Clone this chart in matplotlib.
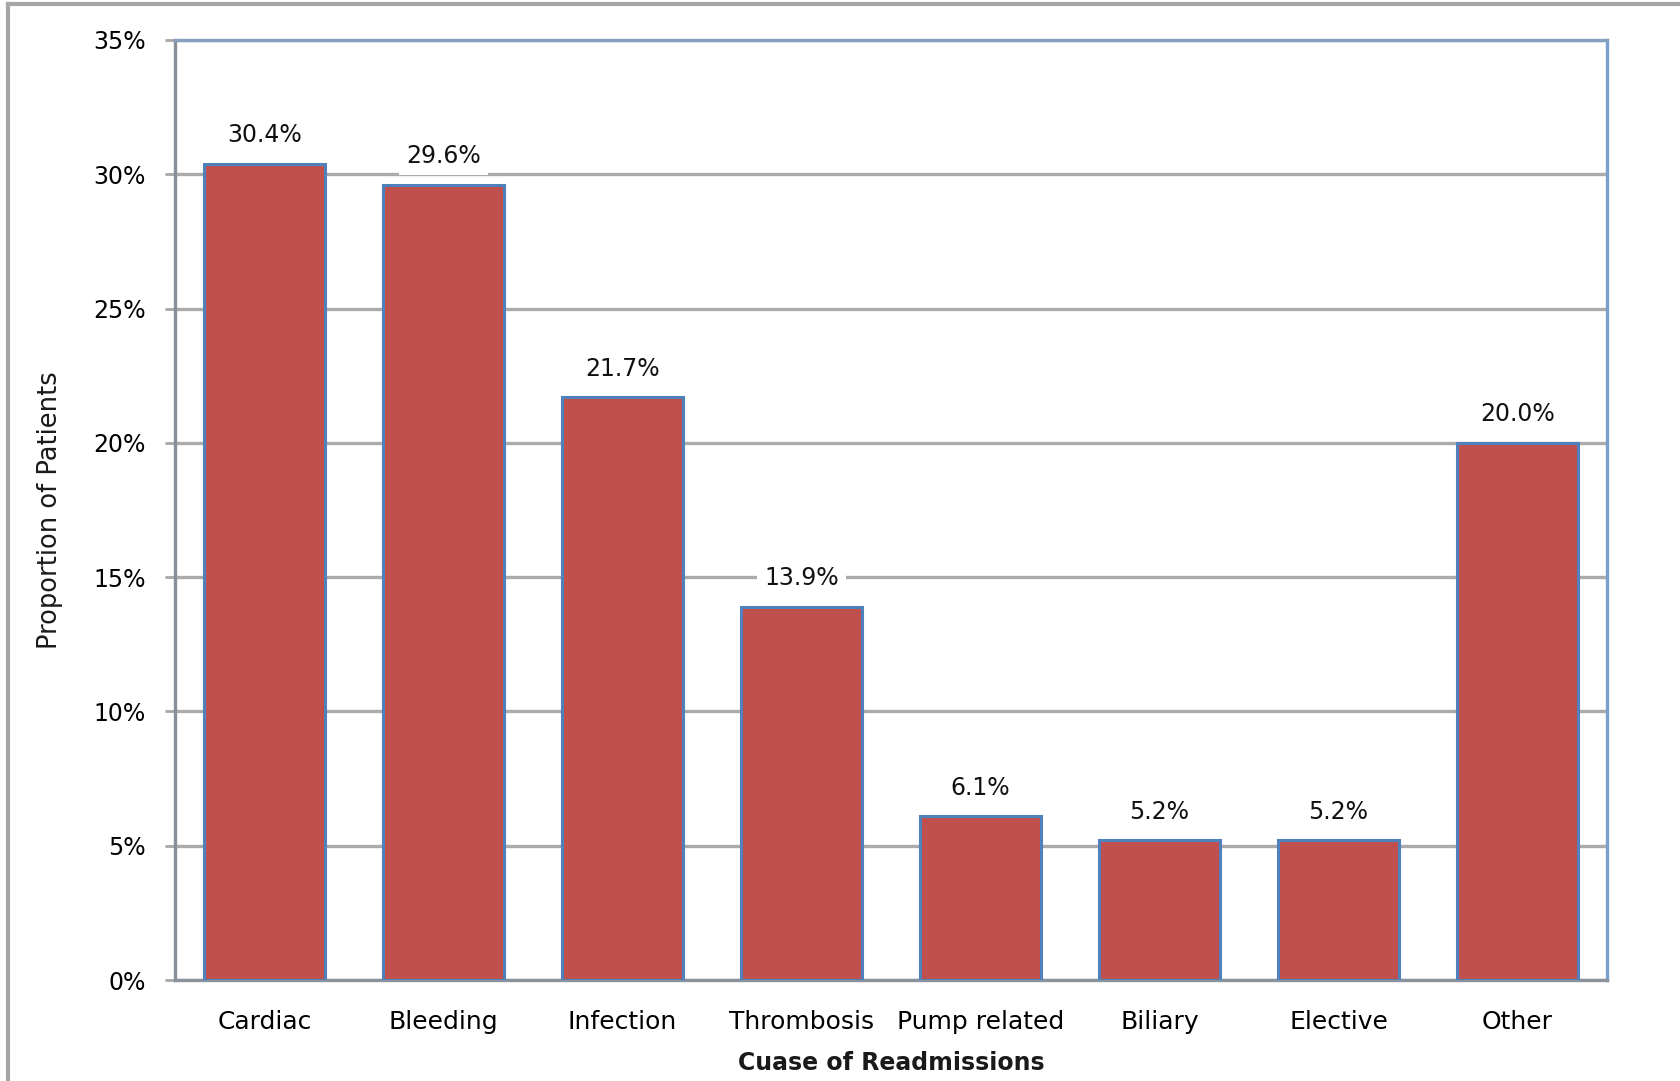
import numpy as np
import matplotlib.pyplot as plt
from matplotlib.lines import Line2D
from matplotlib.ticker import FuncFormatter, MultipleLocator

# readmission causes and share of patients (%)
causes = ["Cardiac", "Bleeding", "Infection", "Thrombosis", "Pump related",
          "Biliary", "Elective", "Other"]
shares = [30.4, 29.6, 21.7, 13.9, 6.1, 5.2, 5.2, 20.0]

plt.rcParams["font.family"] = ["DejaVu Sans"]

fig = plt.figure(figsize=(16.81, 10.81), dpi=100)
ax = fig.add_axes([0.1041, 0.0934, 0.8519, 0.8696])

x = np.arange(len(causes))
ax.bar(x, shares, width=0.68, color="#c0504d", edgecolor="#4f81bd",
       linewidth=2.2, zorder=3)

# value labels sit on a white box so the gridline is cut behind them
for xi, v in zip(x, shares):
    ax.annotate(f"{v:.1f}%", (xi, v), xytext=(0, 12), textcoords="offset points",
                ha="center", va="bottom", fontsize=17, color="#111111",
                bbox=dict(boxstyle="square,pad=0.3", fc="white", ec="none"),
                zorder=4)

ax.set_xlim(-0.5, len(causes) - 0.5)
ax.set_ylim(0, 35)
ax.yaxis.set_major_locator(MultipleLocator(5))
ax.yaxis.set_major_formatter(FuncFormatter(lambda v, p: f"{v:.0f}%"))
ax.grid(axis="y", color="#ababab", linewidth=2.4, zorder=1)
ax.set_axisbelow(True)

ax.set_xticks(x)
ax.set_xticklabels(causes, fontsize=18)
ax.tick_params(axis="x", length=0, pad=21.5)
ax.tick_params(axis="y", labelsize=17, length=7, width=2, color="#a6a6a6", pad=14)

ax.spines["left"].set_color("#878f99")
ax.spines["bottom"].set_color("#8a929c")
ax.spines["top"].set_color("#87a0c0")
ax.spines["right"].set_color("#7aa0cf")
for s in ax.spines.values():
    s.set_linewidth(2.4)

ax.set_xlabel("Cuase of Readmissions", fontsize=17, fontweight="bold",
              color="#1a1a1a", labelpad=12)
ax.set_ylabel("Proportion of Patients", fontsize=18.5, color="#1a1a1a", labelpad=22)

# outer chart frame (left and top edges)
fig.add_artist(Line2D([0.0048, 0.0048], [0, 0.996], color="#a6a6a6",
                      linewidth=3, transform=fig.transFigure))
fig.add_artist(Line2D([0.0048, 1], [0.996, 0.996], color="#a6a6a6",
                      linewidth=3, transform=fig.transFigure))

fig.savefig("out.png", dpi=100, facecolor="white")
